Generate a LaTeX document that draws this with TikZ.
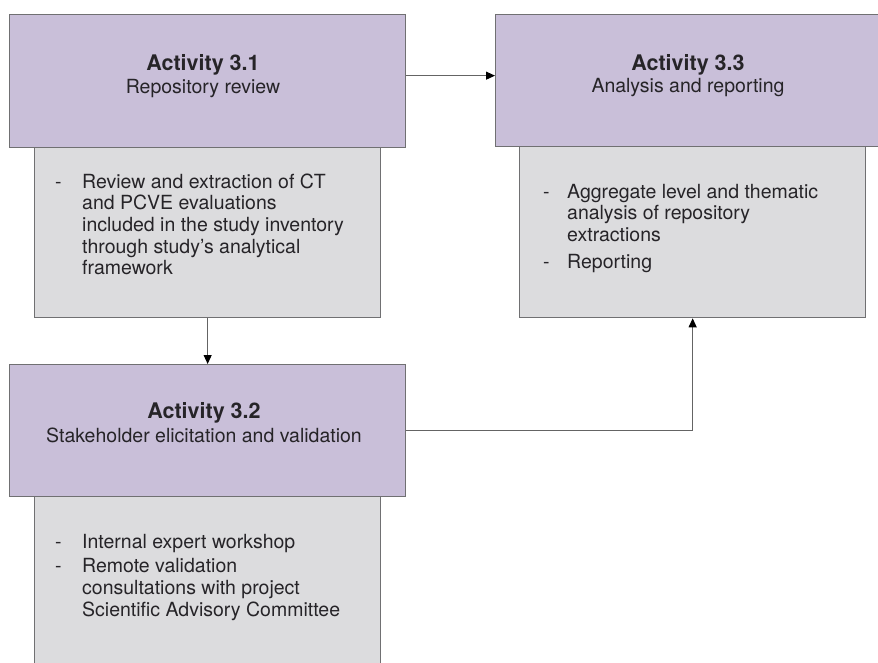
\documentclass[tikz,border=0pt]{standalone}
\usepackage{fontspec}
\setmainfont{TeX Gyre Heros}
\usetikzlibrary{arrows.meta}
\definecolor{purp}{RGB}{201,191,217}
\definecolor{greyf}{RGB}{220,220,222}
\definecolor{edge}{RGB}{112,112,114}
\definecolor{txt}{RGB}{38,36,40}
\definecolor{lnk}{RGB}{100,100,100}
\begin{document}
\begin{tikzpicture}[x=1pt,y=-1pt,
  pbox/.style={draw=edge, line width=1.3pt, fill=purp, anchor=north west, inner sep=0pt},
  gbox/.style={draw=edge, line width=1.3pt, fill=greyf, anchor=north west, inner sep=0pt},
  title/.style={anchor=base, inner sep=0pt, text=txt, font=\fontsize{21.5}{24}\selectfont\bfseries},
  subtitle/.style={anchor=base, inner sep=0pt, text=txt, font=\fontsize{19.5}{22}\selectfont},
  body/.style={anchor=base west, inner sep=0pt, text=txt, font=\fontsize{19.5}{21.7}\selectfont},
  conn/.style={draw=lnk, line width=1.1pt, -{Triangle[length=9pt,width=8pt,color=black]}}]
\useasboundingbox (0,0) rectangle (878,662);
% boxes
\node[pbox, minimum width=396pt, minimum height=133pt] (p1) at (9,14) {};
\node[gbox, minimum width=346pt, minimum height=170pt] (g1) at (34,147) {};
\node[pbox, minimum width=400pt, minimum height=132pt] (p3) at (495,14) {};
\node[gbox, minimum width=346pt, minimum height=171pt] (g3) at (519,146) {};
\node[pbox, minimum width=396pt, minimum height=132pt] (p2) at (9,364) {};
\node[gbox, minimum width=346pt, minimum height=200pt] (g2) at (34,496) {};
% titles
\node[title] (t1) at (203,70) {Activity 3.1};
\node[subtitle] (s1) at (203,93) {Repository review};
\node[title] (t3) at (688,70) {Activity 3.3};
\node[subtitle] (s3) at (688,92) {Analysis and reporting};
\node[title] (t2) at (204,418) {Activity 3.2};
\node[subtitle] (s2) at (204,442) {Stakeholder elicitation and validation};
% bodies
\node[body] (b1) at (55,188) {\begin{tabular}[t]{@{}p{27pt}@{}l@{}}
-&Review and extraction of CT\\
&and PCVE evaluations\\
&included in the study inventory\\
&through study’s analytical\\
&framework
\end{tabular}};
\node[body] (b3) at (543,198) {\begin{tabular}[t]{@{}p{24pt}@{}l@{}}
-&Aggregate level and thematic\\
&analysis of repository\\
&extractions\\[5pt]
-&Reporting
\end{tabular}};
\node[body] (b2) at (55,548) {\begin{tabular}[t]{@{}p{27pt}@{}l@{}}
-&Internal expert workshop\\[3pt]
-&Remote validation\\
&consultations with project\\
&Scientific Advisory Committee
\end{tabular}};
% connectors
\draw[conn] ([yshift=5.5pt]p1.east) -- ([yshift=5.5pt]p1.east -| p3.west);
\draw[conn] (g1.south) -- (p2.north);
\draw[conn] (p2.east) -| (g3.south);
\end{tikzpicture}
\end{document}
